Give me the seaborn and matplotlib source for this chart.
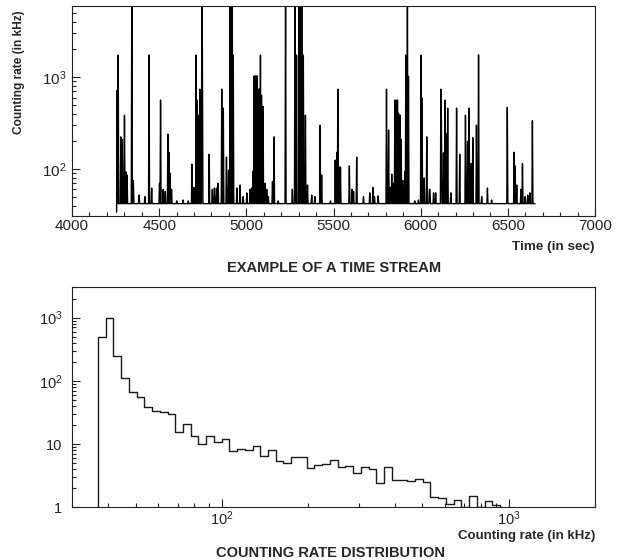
import numpy as np
import pandas as pd
import matplotlib
matplotlib.use("Agg")
import matplotlib.pyplot as plt
import matplotlib.ticker as mticker
import seaborn as sns

# ---------------- data: time stream ----------------
stream_start = 4256      # s
stream_end = 6656        # s
stream_step = 3          # s, sampling of the stream
baseline_rate = 42.0     # kHz, quiet level
start_dip = 34.0         # kHz, first sample

spike_times = [
    4260, 4266, 4279, 4289, 4302, 4310, 4317, 4344, 4352, 4386, 4417, 4443,
    4457, 4501, 4509, 4524, 4534, 4549, 4556, 4562, 4572, 4600, 4638, 4667,
    4688, 4700, 4711, 4719, 4727, 4734, 4744, 4747, 4786, 4805, 4816, 4830,
    4839, 4859, 4868, 4887, 4897, 4906, 4912, 4919, 4925, 4945, 4964, 4983,
    5002, 5021, 5031, 5040, 5046, 5051, 5057, 5063, 5069, 5074, 5082, 5088,
    5097, 5107, 5116, 5126, 5149, 5160, 5183, 5226, 5264, 5279, 5289, 5302,
    5310, 5317, 5327, 5340, 5350, 5375, 5394, 5423, 5432, 5484, 5509, 5518,
    5526, 5533, 5541, 5591, 5606, 5614, 5633, 5671, 5709, 5725, 5734, 5757,
    5805, 5815, 5824, 5834, 5843, 5851, 5858, 5866, 5874, 5881, 5889, 5897,
    5910, 5916, 5923, 5929, 5967, 5986, 6002, 6009, 6019, 6034, 6049, 6054,
    6073, 6086, 6115, 6120, 6130, 6140, 6147, 6155, 6174, 6206, 6224, 6258,
    6268, 6279, 6289, 6300, 6321, 6333, 6350, 6384, 6407, 6497, 6535, 6541,
    6551, 6574, 6585, 6598, 6614, 6627, 6640,
]
spike_rates = [
    720, 1740, 224, 210, 385, 93, 86, 9000, 75, 52, 50, 1740,
    62, 70, 563, 60, 57, 240, 152, 90, 60, 45, 46, 45,
    113, 63, 1740, 563, 385, 740, 9000, 1740, 145, 60, 62, 62,
    70, 740, 460, 135, 97, 9000, 9000, 9000, 1740, 62, 67, 50,
    55, 60, 62, 95, 1030, 1030, 1030, 1030, 740, 740, 1740, 635,
    480, 70, 60, 50, 73, 224, 45, 9000, 60, 9000, 1740, 9000,
    9000, 9000, 1740, 385, 67, 52, 50, 300, 86, 45, 125, 152,
    740, 105, 105, 108, 60, 57, 135, 50, 55, 63, 50, 51,
    740, 265, 63, 88, 70, 563, 563, 563, 405, 385, 210, 75,
    93, 1740, 9000, 1020, 45, 46, 1740, 590, 80, 224, 60, 60,
    55, 55, 740, 340, 150, 563, 245, 460, 55, 460, 145, 385,
    200, 460, 115, 220, 300, 1750, 50, 62, 46, 470, 152, 108,
    67, 60, 115, 50, 52, 55, 335,
]

# ---------------- data: counting rate distribution ----------------
hist_log_lo = 1.5675     # log10 of first bin edge (kHz)
hist_log_hi = 2.9697     # log10 of last bin edge (kHz)
hist_counts = [
    500, 975, 248, 109, 65.6, 56, 38.8, 33.6, 32.4, 29.8,
    15.6, 20.5, 13.5, 9.9, 13.2, 10.9, 12.0, 7.75, 8.3, 8.1,
    9.2, 6.5, 8.1, 5.4, 5.1, 6.2, 6.2, 4.2, 4.7, 4.9,
    5.6, 4.4, 4.5, 3.5, 4.3, 4.1, 2.45, 4.3, 2.7, 2.7,
    2.57, 2.8, 2.5, 1.46, 1.42, 1.12, 1.3, 1.0, 1.52, 1.0,
    1.25, 1.1,
]

# ---------------- style ----------------
sns.set_theme(style="ticks")
plt.rcParams.update({
    "font.family": ["Liberation Sans", "DejaVu Sans"],
    "mathtext.fontset": "custom",
    "mathtext.rm": "Liberation Sans",
    "mathtext.default": "regular",
    "axes.edgecolor": "#222222",
    "axes.linewidth": 0.8,
    "xtick.direction": "in",
    "ytick.direction": "in",
    "xtick.color": "#222222",
    "ytick.color": "#222222",
    "axes.facecolor": "white",
    "figure.facecolor": "white",
})

fig = plt.figure(figsize=(6.24, 5.6), dpi=100)
ax1 = fig.add_axes([72 / 624, 1 - 216 / 560, 523 / 624, 210 / 560])
ax2 = fig.add_axes([72 / 624, 1 - 507.3 / 560, 523 / 624, 220.3 / 560])

# ---------------- top: time stream ----------------
times = np.arange(stream_start, stream_end + stream_step, stream_step)
rates = np.full(times.shape, baseline_rate)
rates[0] = start_dip
for t, r in zip(spike_times, spike_rates):
    i = int(round((t - stream_start) / stream_step))
    rates[i] = max(rates[i], r)
df = pd.DataFrame({"time": times, "rate": rates})

ax1.set_yscale("log")
sns.lineplot(data=df, x="time", y="rate", ax=ax1, color="black",
             linewidth=1.0, estimator=None)
ax1.set_xlim(4000, 7000)
ax1.set_ylim(30.8, 5950)
ax1.xaxis.set_major_locator(mticker.MultipleLocator(500))
ax1.xaxis.set_minor_locator(mticker.MultipleLocator(100))
ax1.yaxis.set_minor_formatter(mticker.NullFormatter())
ax1.tick_params(which="major", length=6, width=0.8, labelsize=11, pad=2)
ax1.tick_params(axis="y", which="major", pad=4)
ax1.tick_params(which="minor", length=3, width=0.8)
ax1.tick_params(top=False, right=False, which="both")
ax1.set_xlabel("")
ax1.set_ylabel("Counting rate (in kHz)", fontsize=8.6, fontweight="bold",
               loc="top")
ax1.yaxis.set_label_coords(-0.09, 0.98)

fig.text(595 / 624, 1 - 247 / 560, "Time (in sec)", ha="right", va="center",
         fontsize=9.7, fontweight="bold")
fig.text(334 / 624, 1 - 268 / 560, "EXAMPLE OF A TIME STREAM", ha="center",
         va="center", fontsize=10.5, fontweight="bold")

# ---------------- bottom: histogram ----------------
edges_log = [float(e) for e in np.linspace(hist_log_lo, hist_log_hi,
                                           len(hist_counts) + 1)]
centers = [10 ** ((a + b) / 2) for a, b in zip(edges_log[:-1], edges_log[1:])]
hdf = pd.DataFrame({"rate": centers, "count": hist_counts})
sns.histplot(data=hdf, x="rate", weights="count", bins=edges_log,
             log_scale=(True, False), element="step", fill=True,
             color="#1a1a1a", alpha=0.0, linewidth=1.0, ax=ax2)
ax2.set_yscale("log")
ax2.set_xlim(30, 2000)
ax2.set_ylim(1, 3050)
ax2.set_xlabel("")
ax2.set_ylabel("")


def ylab(v, pos):
    if abs(v - 1) < 1e-9:
        return "1"
    if abs(v - 10) < 1e-9:
        return "10"
    return r"$10^{%d}$" % int(round(np.log10(v)))


ax2.yaxis.set_major_formatter(mticker.FuncFormatter(ylab))
ax2.xaxis.set_major_locator(mticker.LogLocator(base=10))
ax2.xaxis.set_minor_locator(mticker.LogLocator(base=10, subs=np.arange(2, 10)))
ax2.xaxis.set_minor_formatter(mticker.NullFormatter())
ax2.yaxis.set_minor_formatter(mticker.NullFormatter())
ax2.tick_params(which="major", length=6, width=0.8, labelsize=10.5, pad=1.5)
ax2.tick_params(axis="y", which="major", pad=7)
ax2.tick_params(which="minor", length=3, width=0.8)
ax2.tick_params(top=False, right=False, which="both")

fig.text(595 / 624, 1 - 536 / 560, "Counting rate (in kHz)", ha="right",
         va="center", fontsize=9.5, fontweight="bold")
fig.text(330 / 624, 1 - 553 / 560, "COUNTING RATE DISTRIBUTION", ha="center",
         va="center", fontsize=10.5, fontweight="bold")

fig.savefig("out.png", dpi=100)
